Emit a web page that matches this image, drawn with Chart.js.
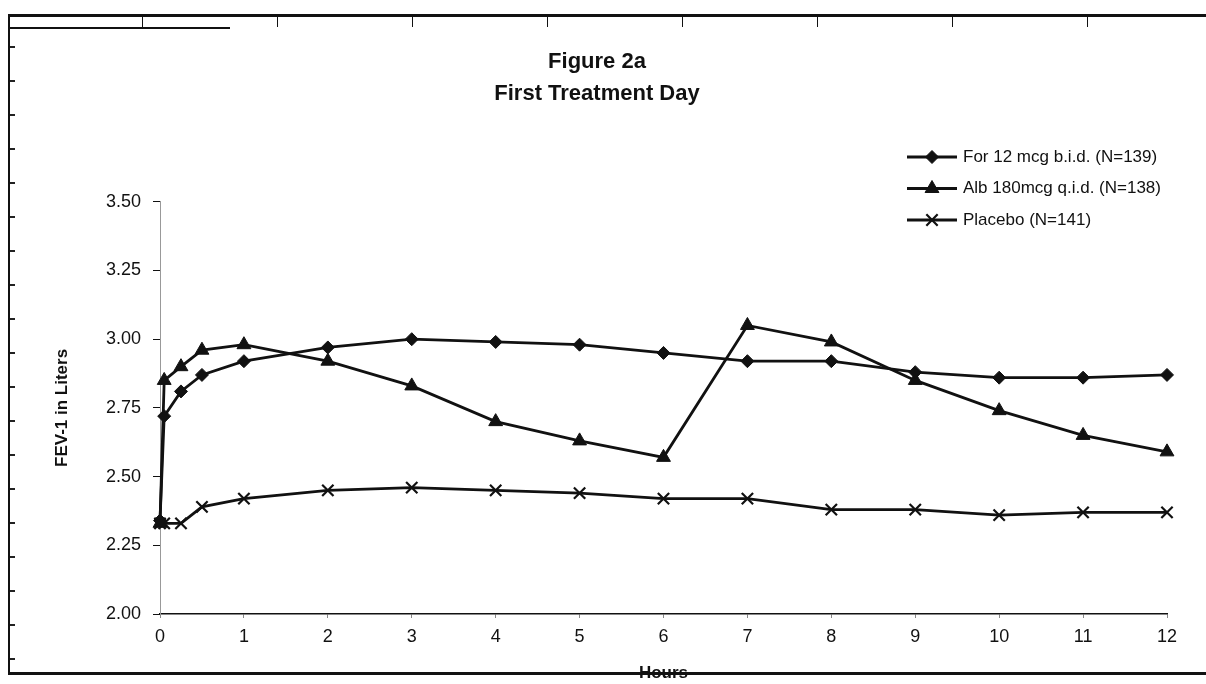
<!DOCTYPE html>
<html>
<head>
<meta charset="utf-8">
<title>Figure 2a - First Treatment Day</title>
<script src="https://cdn.jsdelivr.net/npm/chart.js@4/dist/chart.umd.min.js"></script>
<style>
  html, body { margin: 0; padding: 0; background: #fff; }
  #wrap { position: relative; width: 1206px; height: 684px; overflow: hidden; }
  #wrap canvas { position: absolute; left: 0; top: 0; }
  .rule { position: absolute; background: #111; pointer-events: none; }
</style>
</head>
<body>
<div id="wrap">
  <canvas id="fevChart" width="1206" height="684"></canvas>
  <div class="rule" style="left:8px;top:14px;width:1198px;height:3px"></div>
  <div class="rule" style="left:8px;top:27px;width:222px;height:2px"></div>
  <div class="rule" style="left:8px;top:14px;width:2px;height:661px"></div>
  <div class="rule" style="left:8px;top:672px;width:1198px;height:3px"></div>
  <div class="rule" style="left:10px;top:30px;width:5px;height:640px;background:repeating-linear-gradient(to bottom, transparent 0 16px, #222 16px 18px, transparent 18px 34px)"></div>
</div>
<script>
// Data (FEV-1, liters)
const hours = [0, 0.05, 0.25, 0.5, 1, 2, 3, 4, 5, 6, 7, 8, 9, 10, 11, 12];
const formoterol = [2.34, 2.72, 2.81, 2.87, 2.92, 2.97, 3.00, 2.99, 2.98, 2.95, 2.92, 2.92, 2.88, 2.86, 2.86, 2.87];
const albuterol = [2.33, 2.85, 2.90, 2.96, 2.98, 2.92, 2.83, 2.70, 2.63, 2.57, 3.05, 2.99, 2.85, 2.74, 2.65, 2.59];
const placebo = [2.33, 2.33, 2.33, 2.39, 2.42, 2.45, 2.46, 2.45, 2.44, 2.42, 2.42, 2.38, 2.38, 2.36, 2.37, 2.37];

const seriesLabels = ["For 12 mcg b.i.d. (N=139)", "Alb 180mcg q.i.d. (N=138)", "Placebo (N=141)"];
const titleLines = ["Figure 2a", "First Treatment Day"];
const xTitle = "Hours";
const yTitle = "FEV-1 in Liters";

const ink = "#111";
const fontFamily = "'Liberation Sans', Arial, Helvetica, sans-serif";

// top rule tick marks from the scanned page border
const wrap = document.getElementById("wrap");
for (let i = 0; i < 8; i++) {
  const tick = document.createElement("div");
  tick.className = "rule";
  tick.style.cssText = `left:${142 + i * 135}px;top:17px;width:1px;height:10px`;
  wrap.appendChild(tick);
}

const toPoints = (values) => values.map((v, i) => ({ x: hours[i], y: v }));

const makeSeries = (label, values, pointStyle, radius) => ({
  label,
  data: toPoints(values),
  borderColor: ink,
  backgroundColor: ink,
  borderWidth: 2.8,
  pointStyle,
  pointRadius: radius,
  pointBorderWidth: pointStyle === "crossRot" ? 2.2 : 1,
  pointBackgroundColor: ink,
  pointBorderColor: ink,
  tension: 0,
  fill: false,
  clip: false,
});

// Legend drawn in the upper right, line + marker + label
const cornerLegend = {
  id: "cornerLegend",
  afterDatasetsDraw(chart) {
    const { ctx } = chart;
    const left = 907;
    const top = 157;
    const gap = 31.5;
    chart.data.datasets.forEach((ds, i) => {
      const y = top + i * gap;
      ctx.save();
      ctx.strokeStyle = ds.borderColor;
      ctx.fillStyle = ds.borderColor;
      ctx.lineWidth = 2.8;
      ctx.beginPath();
      ctx.moveTo(left, y);
      ctx.lineTo(left + 50, y);
      ctx.stroke();
      ctx.lineWidth = ds.pointBorderWidth;
      Chart.helpers.drawPoint(ctx, { pointStyle: ds.pointStyle, radius: ds.pointRadius, borderWidth: ds.pointBorderWidth, rotation: 0 }, left + 25, y);
      ctx.font = `17px ${fontFamily}`;
      ctx.textBaseline = "middle";
      ctx.textAlign = "left";
      ctx.fillText(ds.label, left + 56, y);
      ctx.restore();
    });
  },
};

new Chart(document.getElementById("fevChart"), {
  type: "line",
  data: {
    datasets: [
      makeSeries(seriesLabels[0], formoterol, "rectRot", 6.5),
      makeSeries(seriesLabels[1], albuterol, "triangle", 8),
      makeSeries(seriesLabels[2], placebo, "crossRot", 8),
    ],
  },
  plugins: [cornerLegend],
  options: {
    responsive: false,
    animation: false,
    layout: { padding: { left: 27, right: 39, top: 0, bottom: 0 } },
    plugins: {
      legend: { display: false },
      tooltip: { enabled: false },
      title: {
        display: true,
        text: titleLines,
        color: ink,
        font: { family: fontFamily, size: 22, weight: "bold", lineHeight: 1.45 },
        padding: { top: 46, bottom: 92 },
      },
    },
    scales: {
      x: {
        type: "linear",
        min: 0,
        max: 12,
        afterFit: (scale) => { scale.height = 70; },
        ticks: { stepSize: 1, color: ink, font: { family: fontFamily, size: 18 }, padding: 8, maxRotation: 0 },
        grid: { drawOnChartArea: false, tickLength: 4, color: "#888" },
        border: { color: ink, width: 1.5 },
        title: {
          display: true,
          text: xTitle,
          color: ink,
          font: { family: fontFamily, size: 17, weight: "bold" },
          padding: { top: 0, bottom: 0 },
        },
      },
      y: {
        min: 2,
        max: 3.5,
        afterFit: (scale) => { scale.width = 133; },
        ticks: {
          stepSize: 0.25,
          color: ink,
          font: { family: fontFamily, size: 18 },
          padding: 12,
          callback: (v) => Number(v).toFixed(2),
        },
        grid: { drawOnChartArea: false, tickLength: 7, color: ink },
        border: { color: "#999", width: 1, dash: [2, 3] },
        title: {
          display: true,
          text: yTitle,
          color: ink,
          font: { family: fontFamily, size: 17, weight: "bold" },
          padding: { top: 25, bottom: 0 },
        },
      },
    },
  },
});
</script>
</body>
</html>
